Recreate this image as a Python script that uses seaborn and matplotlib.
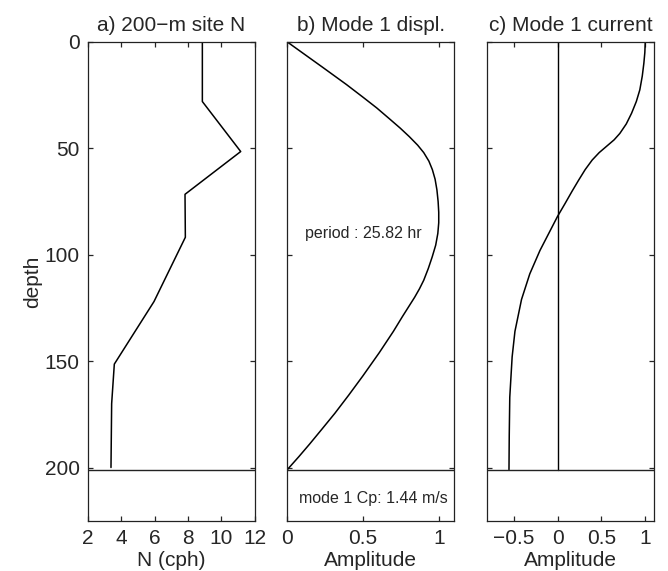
import numpy as np
import pandas as pd
import seaborn as sns
import matplotlib.pyplot as plt

# buoyancy frequency profile (panel a)
n_depth = [0, 28, 51.5, 71.6, 91.8, 122, 151.4, 170, 200]
n_cph = [8.86, 8.86, 11.16, 7.82, 7.84, 5.96, 3.58, 3.42, 3.38]

# mode 1 displacement (panel b)
b_depth = [0, 12, 20, 26, 31, 36, 40.5, 44.5, 48.5, 52, 56, 60, 64.5, 69.5,
           75, 80, 85, 90, 95.5, 101, 106.5, 112, 116, 120, 124.5, 129, 136,
           146, 157, 166, 174.5, 182, 189, 195, 201]
b_amp = [0, 0.235, 0.39, 0.50, 0.59, 0.672, 0.745, 0.805, 0.86, 0.90,
         0.934, 0.957, 0.975, 0.987, 0.995, 0.999, 0.999, 0.993, 0.979, 0.956,
         0.93, 0.9, 0.872, 0.84, 0.8, 0.76, 0.70, 0.607, 0.498, 0.405, 0.314,
         0.228, 0.147, 0.075, 0]

# mode 1 current (panel c)
c_depth = [0, 5, 10, 16, 22.5, 28, 33.5, 38.5, 43, 46, 49, 52, 55.5, 60,
           65, 70, 76, 82, 90, 98, 109, 121, 136, 148, 167, 185, 201]
c_amp = [1.0, 0.995, 0.984, 0.966, 0.938, 0.898, 0.844, 0.784, 0.71, 0.645,
         0.56, 0.475, 0.395, 0.315, 0.24, 0.168, 0.085, 0, -0.1, -0.2, -0.316,
         -0.41, -0.485, -0.517, -0.544, -0.55, -0.553]

bottom_depth = 201
titles = ['a) 200\u2212m site N', 'b) Mode 1 displ.', 'c) Mode 1 current']

sns.set_style('ticks')
plt.rcParams['font.family'] = ['Liberation Sans', 'DejaVu Sans']
plt.rcParams['axes.unicode_minus'] = True
plt.rcParams['xtick.direction'] = 'in'
plt.rcParams['ytick.direction'] = 'in'
plt.rcParams['xtick.major.size'] = 3.5
plt.rcParams['ytick.major.size'] = 3.5
plt.rcParams['axes.linewidth'] = 0.9
plt.rcParams['axes.edgecolor'] = '#222222'

fig = plt.figure(figsize=(6.68, 5.71), dpi=100)
w, h, b = 0.2496, 0.8384, 0.0881
axes = [fig.add_axes([0.1317, b, w, h]),
        fig.add_axes([0.4301, b, w, h]),
        fig.add_axes([0.7295, b, w, h])]

dfa = pd.DataFrame({'depth': n_depth, 'N': n_cph})
dfb = pd.DataFrame({'depth': b_depth, 'amp': b_amp})
dfc = pd.DataFrame({'depth': c_depth, 'amp': c_amp})

sns.lineplot(data=dfa, x='N', y='depth', sort=False, estimator=None,
             color='black', lw=1.1, ax=axes[0])
sns.lineplot(data=dfb, x='amp', y='depth', sort=False, estimator=None,
             color='black', lw=1.1, ax=axes[1])
sns.lineplot(data=dfc, x='amp', y='depth', sort=False, estimator=None,
             color='black', lw=1.1, ax=axes[2])
axes[2].plot([0, 0], [0, bottom_depth], color='black', lw=1.0)

xlims = [(2, 12), (0, 1.1), (-0.8, 1.1)]
xticks = [[2, 4, 6, 8, 10, 12], [0, 0.5, 1], [-0.5, 0, 0.5, 1]]
xticklabels = [['2', '4', '6', '8', '10', '12'], ['0', '0.5', '1'],
               ['\u22120.5', '0', '0.5', '1']]
xlabels = ['N (cph)', 'Amplitude', 'Amplitude']

for i, ax in enumerate(axes):
    ax.axhline(bottom_depth, color='#222222', lw=1.0)
    ax.set_xlim(*xlims[i])
    ax.set_ylim(225, 0)
    ax.set_xticks(xticks[i])
    ax.set_xticklabels(xticklabels[i])
    ax.set_yticks([0, 50, 100, 150, 200])
    ax.tick_params(top=True, right=True, labelsize=15, pad=6, width=0.9)
    ax.set_xlabel(xlabels[i], fontsize=15, labelpad=2)
    ax.set_title(titles[i], fontsize=15, pad=8)
    if i == 0:
        ax.set_ylabel('depth', fontsize=15, labelpad=2)
    else:
        ax.set_ylabel('')
        ax.set_yticklabels([])

axes[1].text(0.50, 90, 'period : 25.82 hr', ha='center', va='center',
             fontsize=11.5)
axes[1].text(0.565, 214.5, 'mode 1 Cp: 1.44 m/s', ha='center', va='center',
             fontsize=11.5)

fig.savefig('out.png', dpi=100)
